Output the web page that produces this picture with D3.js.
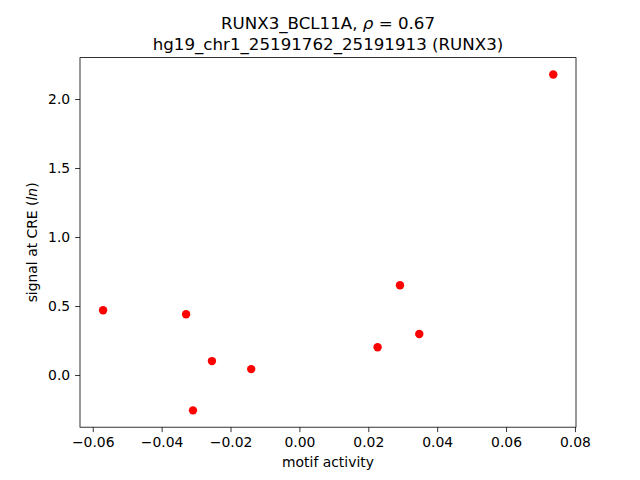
<!DOCTYPE html>
<html>
<head>
<meta charset="utf-8">
<script src="https://cdn.jsdelivr.net/npm/d3@7"></script>
<style>
  html, body { margin: 0; padding: 0; background: #fff; }
  svg { display: block; font-family: "DejaVu Sans", sans-serif; }
</style>
</head>
<body>
<svg id="chart" width="640" height="480"></svg>
<script>
const motifActivity = [-0.0570, -0.0329, -0.0254, -0.0309, -0.0140, 0.0227, 0.0292, 0.0348, 0.0737];
const creSignal     = [0.469, 0.440, 0.101, -0.256, 0.043, 0.201, 0.650, 0.297, 2.178];
const xTicks = [-0.06, -0.04, -0.02, 0.00, 0.02, 0.04, 0.06, 0.08];
const yTicks = [0.0, 0.5, 1.0, 1.5, 2.0];
const titleLine1 = "RUNX3_BCL11A, ";
const rhoValue = "0.67";
const titleLine2 = "hg19_chr1_25191762_25191913 (RUNX3)";
const xLabel = "motif activity";

const svg = d3.select("#chart");
const W = 640, H = 480;
const L = 80, R = 576, T = 57.6, B = 427.2;

const x = d3.scaleLinear().domain([-0.0637, 0.0803]).range([L, R]);
const y = d3.scaleLinear().domain([-0.378, 2.300]).range([B, T]);

svg.append("rect").attr("width", W).attr("height", H).attr("fill", "#fff");

// Points
svg.append("g").selectAll("circle")
  .data(motifActivity.map((v, i) => [v, creSignal[i]]))
  .join("circle")
  .attr("cx", d => x(d[0]))
  .attr("cy", d => y(d[1]))
  .attr("r", 4.2)
  .attr("fill", "#ff0000");

// Axes
const fs = "13.9px";
const xAxis = d3.axisBottom(x).tickValues(xTicks).tickSize(4.9).tickPadding(4.9)
  .tickFormat(d => d3.format(".2f")(d).replace("-", "\u2212"));
const gx = svg.append("g").attr("transform", `translate(0,${B})`).call(xAxis);
const yAxis = d3.axisLeft(y).tickValues(yTicks).tickSize(4.9).tickPadding(4.9)
  .tickFormat(d => d3.format(".1f")(d).replace("-", "\u2212"));
const gy = svg.append("g").attr("transform", `translate(${L},0)`).call(yAxis);

[gx, gy].forEach(g => {
  g.select(".domain").remove();
  g.selectAll(".tick line").attr("stroke", "#000").attr("stroke-width", 0.8);
  g.selectAll(".tick text").attr("fill", "#000")
    .style("font-family", "'DejaVu Sans', sans-serif").style("font-size", fs);
});

// Frame
svg.append("rect").attr("x", L).attr("y", T).attr("width", R - L).attr("height", B - T)
  .attr("fill", "none").attr("stroke", "#000").attr("stroke-width", 0.8);

// Labels
svg.append("text").attr("x", (L + R) / 2).attr("y", 467)
  .attr("text-anchor", "middle").style("font-size", fs).text(xLabel);

const yl = svg.append("text")
  .attr("transform", `translate(37,${(T + B) / 2}) rotate(-90)`)
  .attr("text-anchor", "middle").style("font-size", fs);
yl.append("tspan").text("signal at CRE (");
yl.append("tspan").style("font-style", "italic").text("ln");
yl.append("tspan").text(")");

// Title
const t1 = svg.append("text").attr("x", (L + R) / 2).attr("y", 29)
  .attr("text-anchor", "middle").style("font-size", "16.67px");
t1.append("tspan").text(titleLine1);
t1.append("tspan").style("font-style", "italic").text("\u03c1");
t1.append("tspan").text(" = " + rhoValue);

svg.append("text").attr("x", (L + R) / 2).attr("y", 49.5)
  .attr("text-anchor", "middle").style("font-size", "16.67px").text(titleLine2);
</script>
</body>
</html>
